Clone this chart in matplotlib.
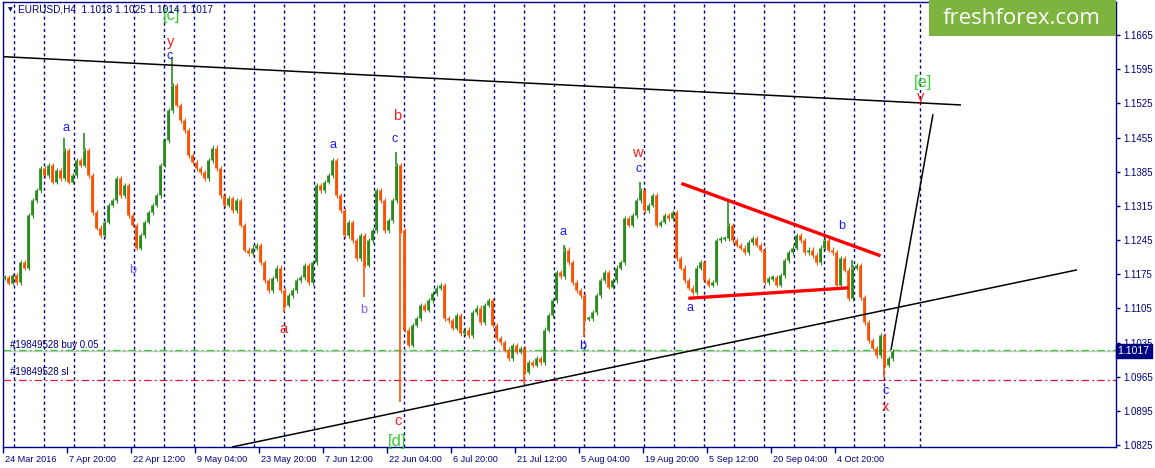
import matplotlib.pyplot as plt
from matplotlib.patches import Rectangle
import matplotlib.transforms as mtransforms

W, H, DPI = 1155, 468, 100

# EURUSD H4 closes, every 4th bar (first bar = 24 Mar 2016)
close = [
    1.1169, 1.1157, 1.1173, 1.1159, 1.1200, 1.1188, 1.1296, 1.1327, 1.1347, 1.1392,
    1.1378, 1.1399, 1.1364, 1.1388, 1.1372, 1.1429, 1.1364, 1.1378, 1.1409, 1.1399,
    1.1429, 1.1378, 1.1302, 1.1270, 1.1255, 1.1282, 1.1317, 1.1327, 1.1372, 1.1337,
    1.1358, 1.1296, 1.1276, 1.1229, 1.1255, 1.1282, 1.1302, 1.1317, 1.1337, 1.1399,
    1.1450, 1.1511, 1.1563, 1.1522, 1.1491, 1.1470, 1.1419, 1.1405, 1.1392, 1.1384,
    1.1372, 1.1409, 1.1434, 1.1392, 1.1337, 1.1317, 1.1331, 1.1306, 1.1327, 1.1276,
    1.1225, 1.1218, 1.1229, 1.1235, 1.1200, 1.1163, 1.1142, 1.1167, 1.1188, 1.1142,
    1.1112, 1.1132, 1.1142, 1.1163, 1.1169, 1.1194, 1.1159, 1.1200, 1.1358, 1.1347,
    1.1364, 1.1378, 1.1409, 1.1337, 1.1306, 1.1255, 1.1282, 1.1245, 1.1208, 1.1255,
    1.1194, 1.1245, 1.1265, 1.1347, 1.1327, 1.1265, 1.1286, 1.1327, 1.1399, 1.1265,
    1.1061, 1.1030, 1.1071, 1.1085, 1.1112, 1.1102, 1.1122, 1.1136, 1.1147, 1.1153,
    1.1085, 1.1081, 1.1065, 1.1091, 1.1054, 1.1061, 1.1050, 1.1097, 1.1106, 1.1077,
    1.1112, 1.1122, 1.1071, 1.1044, 1.1036, 1.1020, 1.1003, 1.1030, 1.1016, 1.1024,
    1.0975, 1.0995, 1.0989, 1.1003, 1.0995, 1.1061, 1.1091, 1.1122, 1.1179, 1.1171,
    1.1225, 1.1200, 1.1159, 1.1142, 1.1132, 1.1085, 1.1085, 1.1097, 1.1132, 1.1163,
    1.1179, 1.1149, 1.1163, 1.1188, 1.1200, 1.1290, 1.1276, 1.1296, 1.1327, 1.1347,
    1.1306, 1.1317, 1.1337, 1.1276, 1.1282, 1.1296, 1.1290, 1.1302, 1.1208, 1.1188,
    1.1163, 1.1147, 1.1138, 1.1188, 1.1200, 1.1163, 1.1153, 1.1159, 1.1245, 1.1249,
    1.1249, 1.1276, 1.1245, 1.1235, 1.1229, 1.1220, 1.1241, 1.1249, 1.1235, 1.1225,
    1.1159, 1.1167, 1.1169, 1.1153, 1.1173, 1.1204, 1.1220, 1.1229, 1.1255, 1.1245,
    1.1220, 1.1225, 1.1214, 1.1200, 1.1229, 1.1245, 1.1225, 1.1220, 1.1153, 1.1208,
    1.1184, 1.1126, 1.1188, 1.1194, 1.1128, 1.1077, 1.1040, 1.1024, 1.1009, 1.1050,
    1.0989, 1.1003, 1.1017,
]
STEP = 4

# long wicks (sample index, extreme price)
spike_idx = [15, 20, 42, 70, 90, 98, 99, 130, 140, 145, 159, 181, 212, 220]
spike_px = [1.1454, 1.1464, 1.1620, 1.1097, 1.1128, 1.1425, 1.0913, 1.0952,
            1.1235, 1.1046, 1.1364, 1.1327, 1.1204, 1.0964]

date_labels = ['24 Mar 2016', '7 Apr 20:00', '22 Apr 12:00', '9 May 04:00',
               '23 May 20:00', '7 Jun 12:00', '22 Jun 04:00', '6 Jul 20:00',
               '21 Jul 12:00', '5 Aug 04:00', '19 Aug 20:00', '5 Sep 12:00',
               '20 Sep 04:00', '4 Oct 20:00']
price_ticks = [1.1665, 1.1595, 1.1525, 1.1455, 1.1385, 1.1315, 1.1245,
               1.1175, 1.1105, 1.1035, 1.0965, 1.0895, 1.0825]

buy_price = 1.1020
sl_price = 1.0958
bid = 1.1017
ohlc_text = 'EURUSD,H4  1.1018 1.1025 1.1014 1.1017'

# wave marks: text, bar, price, kind
waves = [
    ('[c]', 169, 1.1706, 'g'), ('y', 168, 1.1651, 'r'), ('c', 167, 1.1622, 'b'),
    ('a', 63, 1.1474, 'b'), ('b', 130, 1.1184, 'p'), ('a', 280, 1.1063, 'r'),
    ('a', 330, 1.1440, 'b'), ('b', 394, 1.1500, 'r'), ('c', 392, 1.1452, 'b'),
    ('b', 361, 1.1102, 'p'), ('c', 395, 1.0874, 'r'), ('[d]', 394, 1.0833, 'g'),
    ('a', 560, 1.1261, 'b'), ('b', 580, 1.1028, 'b'), ('w', 634, 1.1423, 'r'),
    ('c', 636, 1.1390, 'b'), ('a', 687, 1.1106, 'b'), ('b', 839, 1.1274, 'b'),
    ('c', 883, 1.0936, 'b'), ('x', 883, 1.0902, 'r'), ('[e]', 920, 1.1569, 'g'),
    ('y', 918, 1.1538, 'r'),
]
wave_style = {'b': ('#1a1aff', 9), 'p': ('#8060ff', 9),
              'r': ('#ff1a1a', 10.5), 'g': ('#33cc33', 12)}

# trend lines: (bar0, price0, bar1, price1)
black_lines = [(0, 1.1621, 958, 1.1522), (229, 1.0821, 1074, 1.1184),
               (888, 1.1020, 930, 1.1503)]
red_lines = [(680, 1.1360, 876, 1.1214), (687, 1.1126, 844, 1.1147)]

NAVY = '#000080'
UP, DOWN = '#2a8c1e', '#ff5000'
WICK = 0.0005
plt.rcParams['font.family'] = ['Liberation Sans', 'DejaVu Sans']

fig = plt.figure(figsize=(W / DPI, H / DPI), dpi=DPI)
ax = fig.add_axes([3 / W, (H - 447) / H, (1116 - 3) / W, (447 - 2) / H])
ax.set_xlim(0, 1113)
ax.set_ylim(1.0821, 1.1733)

# week separators
weeks = list(range(11, 882, 30)) + [917]
for wx in weeks:
    ax.axvline(wx, color=NAVY, lw=1.0, ls=(0, (2.2, 2.2)), zorder=1)

# order levels
ax.axhline(bid, color='#c8c8c8', lw=0.9, zorder=2)
ax.axhline(buy_price, color='#33cc33', lw=0.9, ls=(0, (6, 2.5, 1.5, 2.5)), zorder=2)
ax.axhline(sl_price, color='#e0103c', lw=0.9, ls=(0, (6, 2.5, 1.5, 2.5)), zorder=2)
ax.text(7, buy_price + 0.0011, '#19849528 buy 0.05', color=NAVY, fontsize=7,
        va='center', ha='left')
ax.text(7, sl_price + 0.0016, '#19849528 sl', color=NAVY, fontsize=7,
        va='center', ha='left')

# price bars
xs = [1 + STEP * i for i in range(len(close))]
for i, c in enumerate(close):
    o = close[i - 1] if i > 0 else c
    col = UP if c >= o else DOWN
    lo, hi = min(o, c), max(o, c)
    ax.vlines(xs[i] + 1, lo - WICK, hi + WICK, color=col, lw=0.8, zorder=3)
    if hi - lo < 0.0002:
        lo, hi = lo - 0.0002, hi + 0.0002
    ax.vlines(xs[i], lo, hi, color=col, lw=2.0, zorder=3)
for i, p in zip(spike_idx, spike_px):
    o = close[i - 1]
    col = UP if close[i] >= o else DOWN
    ax.vlines(xs[i], min(close[i], p), max(close[i], p), color=col, lw=1.2, zorder=3)

for x0, y0, x1, y1 in black_lines:
    ax.plot([x0, x1], [y0, y1], color='black', lw=1.1, zorder=4, solid_capstyle='butt')
for x0, y0, x1, y1 in red_lines:
    ax.plot([x0, x1], [y0, y1], color='#ff0000', lw=2.4, zorder=4)

for s, bx, p, k in waves:
    col, fs = wave_style[k]
    ax.text(bx, p, s, color=col, fontsize=fs, ha='center', va='center', zorder=5,
            clip_on=False)

# axes
for sp in ax.spines.values():
    sp.set_color(NAVY)
    sp.set_linewidth(1.0)
ax.yaxis.tick_right()
ax.set_yticks(price_ticks)
ax.set_yticklabels([f'{p:.4f}' for p in price_ticks])
ax.tick_params(axis='y', direction='out', length=3, width=1, color=NAVY,
               labelcolor=NAVY, labelsize=7, pad=2)
ax.set_xticks(range(0, 64 * len(date_labels), 64))
ax.set_xticklabels(date_labels)
ax.tick_params(axis='x', direction='out', length=4, width=1, color=NAVY,
               labelcolor=NAVY, labelsize=6.6, pad=1.5)
shift = mtransforms.ScaledTranslation(2 / DPI, 0, fig.dpi_scale_trans)
for lab in ax.get_xticklabels():
    lab.set_horizontalalignment('left')
    lab.set_transform(lab.get_transform() + shift)

ax.text(1.0015, bid, '1.1017', transform=ax.get_yaxis_transform(), color='white',
        fontsize=7.5, ha='left', va='center', clip_on=False, zorder=6,
        bbox=dict(boxstyle='square,pad=0.2', fc=NAVY, ec=NAVY))

# header
fig.text(10 / W, 1 - 10 / H, '\u25bc', color=NAVY, fontsize=4.5, ha='center',
         va='center', family='DejaVu Sans')
fig.text(18 / W, 1 - 10 / H, ohlc_text, color=NAVY, fontsize=7.2, ha='left',
         va='center')

# logo
fig.patches.append(Rectangle((929 / W, 1 - 36 / H), (1116 - 929) / W, 36 / H,
                             transform=fig.transFigure, fc='#7db33f', ec='none',
                             zorder=10))
fig.text(1022 / W, 1 - 19 / H, 'freshforex.com', color='white', fontsize=16,
         ha='center', va='center', family='Open Sans', zorder=11)

fig.savefig('out.png', dpi=DPI)
